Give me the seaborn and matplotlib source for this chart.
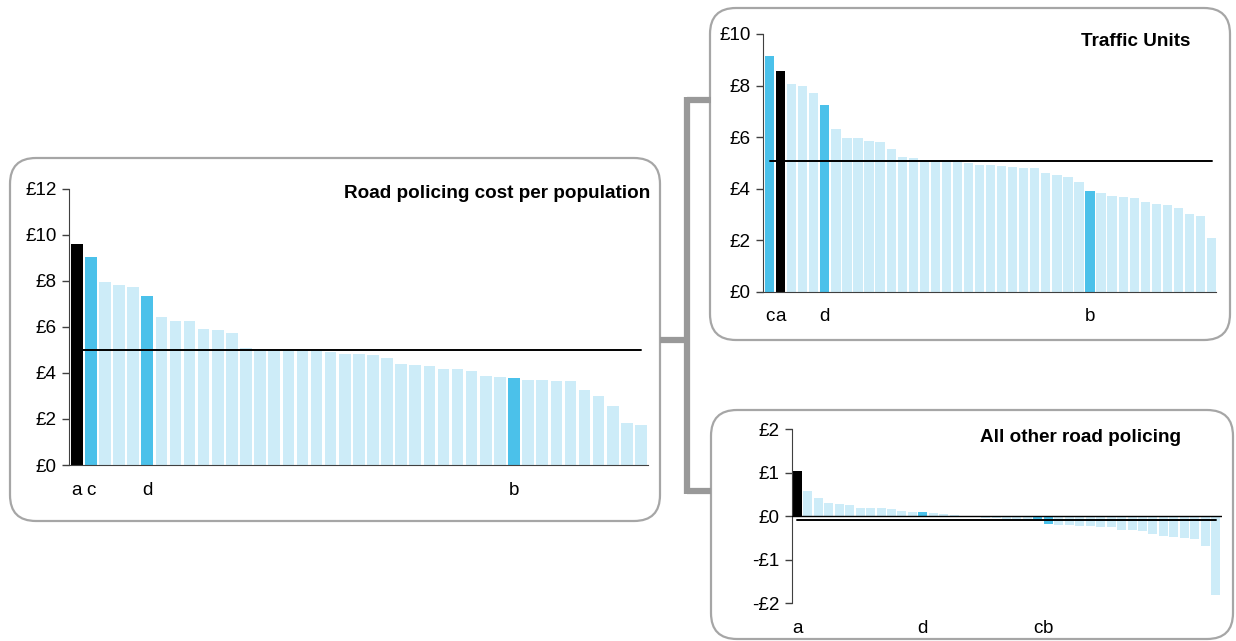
import matplotlib
matplotlib.use("Agg")
import matplotlib.pyplot as plt
import seaborn as sns
import pandas as pd
from matplotlib.patches import FancyBboxPatch

sns.set_style("white")
plt.rcParams['font.family'] = ['Liberation Sans', 'DejaVu Sans']
plt.rcParams['text.color'] = 'black'
plt.rcParams['xtick.color'] = 'black'
plt.rcParams['ytick.color'] = 'black'

# Data (forces sorted high to low in each panel)
road_policing = [9.59, 9.04, 7.96, 7.81, 7.74, 7.34, 6.41, 6.25, 6.24, 5.90, 5.86,
                 5.73, 5.07, 4.97, 4.96, 4.95, 4.94, 4.93, 4.91, 4.80, 4.80, 4.76,
                 4.63, 4.38, 4.33, 4.30, 4.17, 4.17, 4.08, 3.86, 3.83, 3.76, 3.69,
                 3.69, 3.66, 3.63, 3.26, 3.00, 2.58, 1.84, 1.74]
road_policing_avg = 4.98
road_policing_marks = {0: 'a', 1: 'c', 5: 'd', 31: 'b'}

traffic_units = [9.15, 8.56, 8.06, 7.98, 7.70, 7.23, 6.31, 5.98, 5.98, 5.83, 5.81,
                 5.55, 5.24, 5.20, 5.12, 5.10, 5.05, 5.02, 5.01, 4.93, 4.93, 4.89,
                 4.85, 4.81, 4.79, 4.59, 4.54, 4.46, 4.24, 3.92, 3.83, 3.71, 3.67,
                 3.64, 3.49, 3.42, 3.38, 3.25, 3.01, 2.95, 2.08]
traffic_units_avg = 5.06
traffic_units_marks = {0: 'c', 1: 'a', 5: 'd', 29: 'b'}

other_policing = [1.03, 0.59, 0.41, 0.30, 0.28, 0.27, 0.19, 0.19, 0.19, 0.16, 0.13,
                  0.09, 0.09, 0.07, 0.05, 0.02, 0.01, -0.01, -0.03, -0.05, -0.06,
                  -0.06, -0.06, -0.07, -0.18, -0.19, -0.20, -0.22, -0.22, -0.24,
                  -0.25, -0.32, -0.32, -0.34, -0.40, -0.45, -0.48, -0.51, -0.53,
                  -0.68, -1.82]
other_policing_avg = -0.09
other_policing_marks = {0: 'a', 12: 'd', 23: 'c', 24: 'b'}

BLACK = '#000000'
BLUE = '#4BC1EA'
LIGHT = '#CDECF8'
W, H = 1236, 641

fig = plt.figure(figsize=(W / 100, H / 100), dpi=100)

# Background layer in pixel coordinates for boxes and connector
bg = fig.add_axes([0, 0, 1, 1], zorder=-1)
bg.set_xlim(0, W)
bg.set_ylim(H, 0)
bg.axis('off')

for (x0, y0, x1, y1) in [(10, 158, 660, 521), (710, 8, 1230, 340), (711, 410, 1233, 639)]:
    bg.add_patch(FancyBboxPatch((x0, y0), x1 - x0, y1 - y0,
                                boxstyle="round,pad=0,rounding_size=26",
                                fc='white', ec='#A6A6A6', lw=1.6))

bracket = dict(color='#999999', lw=4.5, solid_capstyle='butt')
bg.plot([660, 687], [340, 340], **bracket)
bg.plot([687, 687], [97, 494], **bracket)
bg.plot([687, 711], [100, 100], **bracket)
bg.plot([687, 711], [491, 491], **bracket)


def px_axes(x0, y_top, x1, y_bot):
    return fig.add_axes([x0 / W, (H - y_bot) / H, (x1 - x0) / W, (y_bot - y_top) / H])


def draw_panel(ax, values, marks, avg, width, xlim, ylim, yticks, ylabels, zero_spine):
    n = len(values)
    colors = []
    for i in range(n):
        if marks.get(i) == 'a':
            colors.append(BLACK)
        elif i in marks:
            colors.append(BLUE)
        else:
            colors.append(LIGHT)
    df = pd.DataFrame({'force': list(range(n)), 'value': values})
    sns.barplot(data=df, x='force', y='value', hue='force', palette=colors,
                width=width, legend=False, ax=ax, saturation=1, edgecolor='none')
    ax.plot([0, n - 1], [avg, avg], color='black', lw=1.4, zorder=5)
    ax.set_xlim(*xlim)
    ax.set_ylim(*ylim)
    ax.set_yticks(yticks)
    ax.set_yticklabels(ylabels, fontsize=13.6)
    ax.set_xticks(list(marks.keys()))
    ax.set_xticklabels(list(marks.values()), fontsize=13.6)
    ax.tick_params(axis='x', length=0, pad=12, bottom=False)
    ax.tick_params(axis='y', left=True, length=5, width=1, color='#404040',
                   direction='out', pad=4)
    ax.set_xlabel('')
    ax.set_ylabel('')
    for s in ['top', 'right']:
        ax.spines[s].set_visible(False)
    ax.spines['left'].set_color('#404040')
    if zero_spine:
        ax.spines['bottom'].set_visible(False)
        ax.axhline(0, color='black', lw=1.0, zorder=4)
    else:
        ax.spines['bottom'].set_color('#404040')
    ax.patch.set_alpha(0)


ax1 = px_axes(69, 188.7, 648, 465)
draw_panel(ax1, road_policing, road_policing_marks, road_policing_avg, 0.82,
           (-0.55, 40.5), (0, 12), [0, 2, 4, 6, 8, 10, 12],
           ['£0', '£2', '£4', '£6', '£8', '£10', '£12'], False)

ax2 = px_axes(763.3, 34, 1216, 291.7)
draw_panel(ax2, traffic_units, traffic_units_marks, traffic_units_avg, 0.84,
           (-0.57, 40.4), (0, 10), [0, 2, 4, 6, 8, 10],
           ['£0', '£2', '£4', '£6', '£8', '£10'], False)

ax3 = px_axes(791.7, 429.3, 1222, 603.3)
draw_panel(ax3, other_policing, other_policing_marks, other_policing_avg, 0.86,
           (-0.54, 40.6), (-2, 2), [-2, -1, 0, 1, 2],
           ['-£2', '-£1', '£0', '£1', '£2'], True)

# Panel titles
bg.text(650, 193, 'Road policing cost per population', ha='right', va='center',
        fontsize=13.6, fontweight='bold')
bg.text(1190, 41, 'Traffic Units', ha='right', va='center', fontsize=13.6, fontweight='bold')
bg.text(1181, 438, 'All other road policing', ha='right', va='center',
        fontsize=13.6, fontweight='bold')

plt.savefig('out.png', dpi=100)
